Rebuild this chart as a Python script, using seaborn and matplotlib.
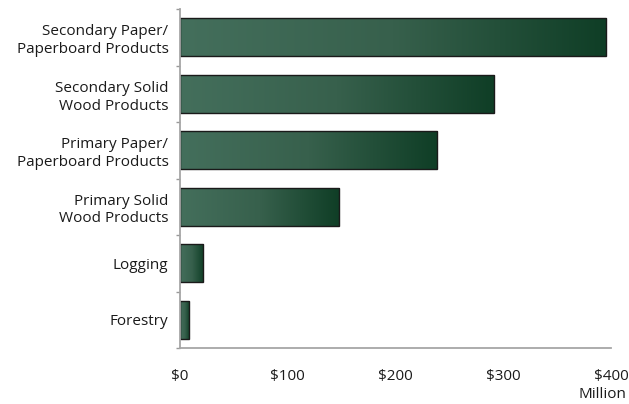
import numpy as np
import pandas as pd
import matplotlib
matplotlib.use("Agg")
import matplotlib.pyplot as plt
import seaborn as sns
from matplotlib.colors import LinearSegmentedColormap
from matplotlib.ticker import FixedLocator

categories = ["Secondary Paper/\nPaperboard Products", "Secondary Solid\nWood Products",
              "Primary Paper/\nPaperboard Products", "Primary Solid\nWood Products",
              "Logging", "Forestry"]
values = [395, 292, 239, 148, 22, 9]
xticks = [0, 100, 200, 300, 400]
xticklabels = ["$0", "$100", "$200", "$300", "$400"]

sns.set_theme(style="white")
plt.rcParams['font.family'] = ['Open Sans', 'DejaVu Sans']
FS = 11

df = pd.DataFrame({"cat": categories, "val": values})
fig = plt.figure(figsize=(6.29, 4.04), dpi=100)
ax = fig.add_axes([179.5/629, 1-348/404, (611-179.5)/629, (348-9)/404])
sns.barplot(data=df, x="val", y="cat", orient="h", ax=ax, width=0.67,
            color="#2d5a44", edgecolor="#1a1a1a", linewidth=1.0)

cmap = LinearSegmentedColormap.from_list("g", ["#446f5c", "#37604c", "#0f3e26"])
grad = np.linspace(0, 1, 256).reshape(1, -1)
for p in ax.patches:
    x0, y0 = p.get_x(), p.get_y()
    w, h = p.get_width(), p.get_height()
    im = ax.imshow(grad, extent=[x0, x0 + w, y0, y0 + h], aspect="auto",
                   cmap=cmap, zorder=p.get_zorder() + 0.1)
    im.set_clip_path(p)
    p.set_facecolor("none")
    p.set_zorder(p.get_zorder() + 0.2)

ax.set_xlim(0, 400)
ax.set_ylim(5.5, -0.5)
ax.set_xticks(xticks)
ax.set_xticklabels(xticklabels, fontsize=FS, color="#1a1a1a")
ax.tick_params(axis="y", labelsize=FS, labelcolor="#1a1a1a", length=0, pad=8)
ax.tick_params(axis="x", direction="in", length=5, color="#999999", pad=15)
ax.yaxis.set_minor_locator(FixedLocator(np.arange(-0.5, 6, 1)))
ax.tick_params(axis="y", which="minor", direction="out", length=3, color="#999999", left=True)
for lab in ax.get_yticklabels():
    lab.set_horizontalalignment("right")
    lab.set_multialignment("right")
    lab.set_linespacing(1.25)
ax.set_xlabel("")
ax.set_ylabel("")
for s in ["top", "right"]:
    ax.spines[s].set_visible(False)
for s in ["left", "bottom"]:
    ax.spines[s].set_color("#a6a6a6")
    ax.spines[s].set_linewidth(1.3)
fig.text(626/629, 1-395/404, "Million", ha="right", va="center", fontsize=FS, color="#1a1a1a")
fig.savefig("out.png", dpi=100)
